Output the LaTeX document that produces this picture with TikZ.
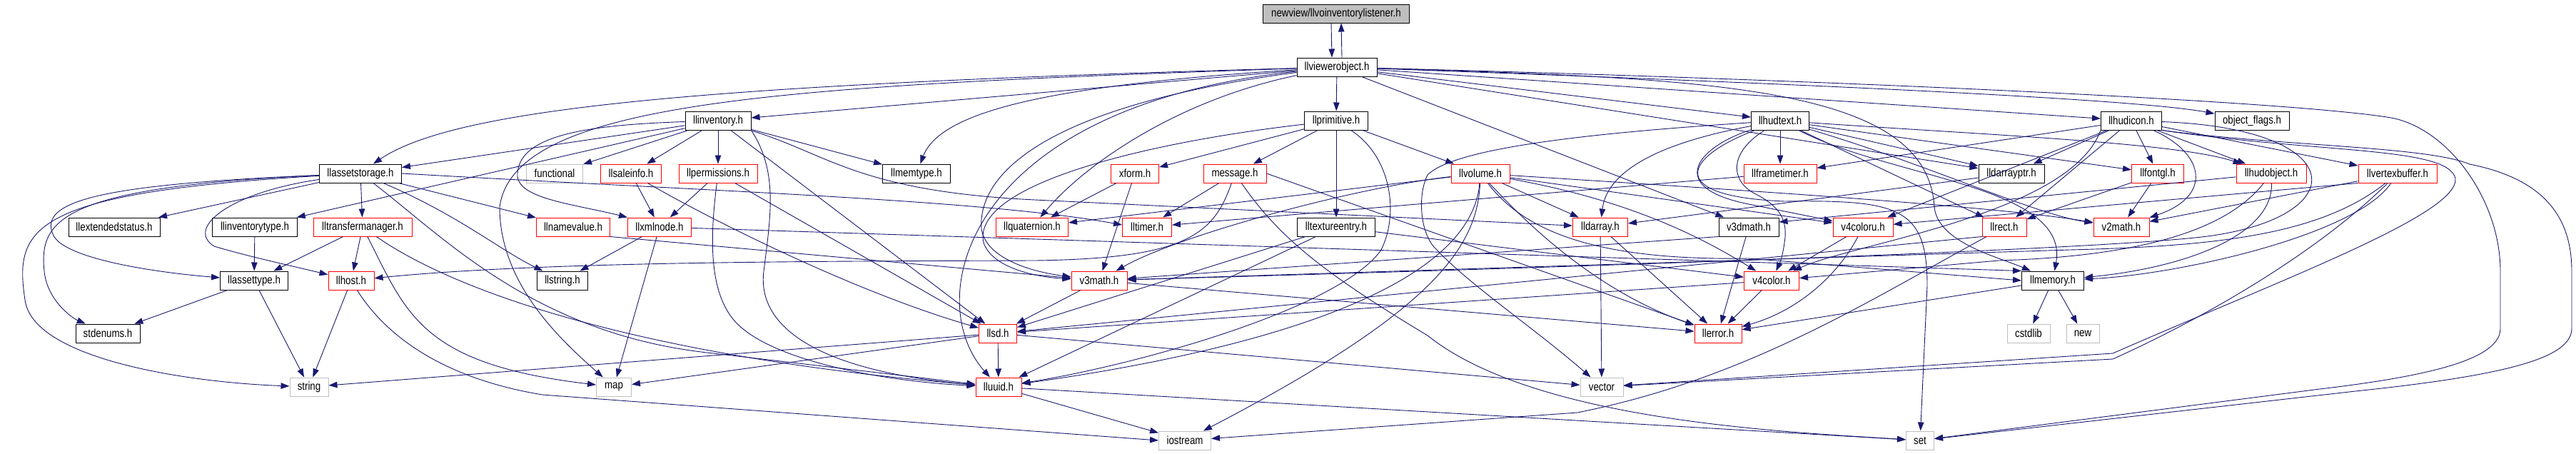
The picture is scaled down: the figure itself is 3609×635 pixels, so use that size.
\documentclass[tikz,border=0pt]{standalone}
\usepackage{fontspec}
\setmainfont{Liberation Sans}[FakeStretch=0.83]
\usetikzlibrary{arrows.meta}
\definecolor{edgeblue}{HTML}{191970}
\definecolor{boxgray}{HTML}{BFBFBF}
\tikzset{
  nd/.style={draw, rectangle, inner sep=0pt, minimum height=26pt, line width=1pt,
    font=\fontsize{16pt}{18pt}\selectfont, text=black},
  blk/.style={nd, draw=black},
  rd/.style={nd, draw=red},
  gr/.style={nd, draw=boxgray},
  topnode/.style={nd, draw=black, fill=boxgray},
  e/.style={draw=edgeblue, line width=0.9pt, -{Triangle[length=12pt,width=8.5pt]}},
}
\begin{document}
\begin{tikzpicture}[x=1pt,y=-1pt]
\useasboundingbox (0,0) rectangle (3609,635);
\fill[white] (0,0) rectangle (3609,635);

% ---------- nodes ----------
\node[topnode, minimum width=205pt] (VOI) at (1872,19) {newview/llvoinventorylistener.h};
\node[blk, minimum width=112pt] (VO) at (1873,94) {llviewerobject.h};

\node[blk, minimum width=92pt]  (INV) at (1006,169) {llinventory.h};
\node[blk, minimum width=89pt]  (PR)  at (1872,169) {llprimitive.h};
\node[blk, minimum width=81pt]  (HT)  at (2494,169) {llhudtext.h};
\node[blk, minimum width=85pt]  (HI)  at (2986,169) {llhudicon.h};
\node[blk, minimum width=104pt] (OF)  at (3155,169) {object\_flags.h};

\node[blk, minimum width=115pt] (AS)   at (505,243)  {llassetstorage.h};
\node[gr,  minimum width=79pt]  (FUN)  at (777,243)  {functional};
\node[rd,  minimum width=85pt]  (SI)   at (884,243)  {llsaleinfo.h};
\node[rd,  minimum width=110pt] (PERM) at (1006,243) {llpermissions.h};
\node[blk, minimum width=95pt]  (MT)   at (1284,243) {llmemtype.h};
\node[rd,  minimum width=67pt]  (XF)   at (1590,243) {xform.h};
\node[rd,  minimum width=88pt]  (MSG)  at (1730,243) {message.h};
\node[rd,  minimum width=82pt]  (VOL)  at (2074,243) {llvolume.h};
\node[rd,  minimum width=102pt] (FT)   at (2494,243) {llframetimer.h};
\node[blk, minimum width=92pt]  (DAP)  at (2818,243) {lldarrayptr.h};
\node[rd,  minimum width=73pt]  (FGL)  at (3023,243) {llfontgl.h};
\node[rd,  minimum width=98pt]  (HO)   at (3182,243) {llhudobject.h};
\node[rd,  minimum width=110pt] (VB)   at (3359,243) {llvertexbuffer.h};

\node[blk, minimum width=128pt] (ES)   at (160,318)  {llextendedstatus.h};
\node[blk, minimum width=119pt] (IT)   at (357,318)  {llinventorytype.h};
\node[rd,  minimum width=138pt] (TM)   at (508,318)  {lltransfermanager.h};
\node[rd,  minimum width=103pt] (NV)   at (803,318)  {llnamevalue.h};
\node[rd,  minimum width=89pt]  (XML)  at (924,318)  {llxmlnode.h};
\node[rd,  minimum width=101pt] (QUAT) at (1446,318) {llquaternion.h};
\node[rd,  minimum width=69pt]  (TIM)  at (1607,318) {lltimer.h};
\node[blk, minimum width=109pt] (TE)   at (1872,318) {lltextureentry.h};
\node[rd,  minimum width=77pt]  (DA)   at (2242,318) {lldarray.h};
\node[blk, minimum width=84pt]  (V3D)  at (2450,318) {v3dmath.h};
\node[rd,  minimum width=84pt]  (V4U)  at (2610,318) {v4coloru.h};
\node[rd,  minimum width=62pt]  (RECT) at (2808,318) {llrect.h};
\node[rd,  minimum width=78pt]  (V2)   at (2972,318) {v2math.h};

\node[blk, minimum width=95pt]  (AT)   at (356,393)  {llassettype.h};
\node[rd,  minimum width=64pt]  (HOST) at (492,393)  {llhost.h};
\node[blk, minimum width=71pt]  (LSTR) at (788,393)  {llstring.h};
\node[rd,  minimum width=78pt]  (V3)   at (1540,393) {v3math.h};
\node[rd,  minimum width=77pt]  (V4)   at (2482,393) {v4color.h};
\node[blk, minimum width=87pt]  (MEM)  at (2876,393) {llmemory.h};

\node[blk, minimum width=90pt]  (SE)   at (151,467)  {stdenums.h};
\node[rd,  minimum width=53pt]  (SD)   at (1398,467) {llsd.h};
\node[rd,  minimum width=66pt]  (ERR)  at (2407,467) {llerror.h};
\node[gr,  minimum width=60pt]  (CSTD) at (2842,467) {cstdlib};
\node[gr,  minimum width=46pt]  (NEW)  at (2918,467) {new};

\node[gr,  minimum width=54pt]  (STR)  at (433,542)  {string};
\node[gr,  minimum width=49pt]  (MAP)  at (860,542)  {map};
\node[rd,  minimum width=64pt]  (UUID) at (1399,542) {lluuid.h};
\node[gr,  minimum width=60pt]  (VEC)  at (2244,542) {vector};

\node[gr,  minimum width=73pt]  (IOS)  at (1660,617) {iostream};
\node[gr,  minimum width=39pt]  (SET)  at (2690,617) {set};

% ---------- edges ----------
% top pair
\draw[e] ([xshift=-7pt]VOI.south) -- ([xshift=-7pt]VO.north);
\draw[e] ([xshift=7pt]VO.north) -- ([xshift=7pt]VOI.south);

% llviewerobject.h
\draw[e] (VO) .. controls (1000,118) and (640,150) .. ([xshift=18pt]AS.north);
\draw[e] (VO) -- (INV);
\draw[e] (VO) .. controls (1500,118) and (1320,150) .. (MT);
\draw[e] (VO) -- (PR);
\draw[e] (VO) .. controls (1650,140) and (1520,230) .. (QUAT);
\draw[e] (VO) .. controls (1450,150) and (1370,250) .. (1375,320) .. controls (1380,360) and (1440,380) .. (V3);
\draw[e] (VO) .. controls (1350,150) and (1290,420) .. (UUID);
\draw[e] (VO) .. controls (1100,120) and (720,140) .. (700,290) .. controls (700,400) and (790,480) .. (MAP);
\draw[e] (VO) -- (HT);
\draw[e] (VO) -- (HI);
\draw[e] (VO) .. controls (2600,120) and (3000,140) .. (OF);
\draw[e] (VO) -- (DAP);
\draw[e] (VO) -- (V3D);
\draw[e] (VO) .. controls (2400,110) and (2700,120) .. (2710,290) .. controls (2715,340) and (2800,360) .. (MEM);
\draw[e] (VO) .. controls (2500,110) and (3200,140) .. (3350,165) .. controls (3430,180) and (3503,280) .. (3503,380) -- (3503,460) .. controls (3503,500) and (3420,525) .. (3250,545) -- (SET);

% llinventory.h
\draw[e] (INV) -- (AS);
\draw[e] (INV) -- (FUN);
\draw[e] (INV) -- (SI);
\draw[e] (INV) -- (PERM);
\draw[e] (INV) -- (MT);
\draw[e] (INV) -- (IT);
\draw[e] (INV) .. controls (820,175) and (728,190) .. (725,243) .. controls (722,278) and (800,285) .. (XML.north west);
\draw[e] (INV) -- (SD);
\draw[e] (INV.south east) .. controls (1090,240) and (1080,300) .. (1070,380) .. controls (1060,460) and (1150,520) .. (UUID);
\draw[e] (INV) .. controls (1160,215) and (1200,268) .. (1450,280) -- (DA);

% llassetstorage.h
\draw[e] (AS) -- (ES);
\draw[e] (AS) -- (TM);
\draw[e] (AS) -- (NV);
\draw[e] (AS) .. controls (640,300) and (700,350) .. (LSTR);
\draw[e] (AS.east) .. controls (1000,268) and (1380,280) .. ([yshift=3pt]TIM.west);
\draw[e] (AS) .. controls (620,330) and (750,470) .. (1000,495) -- (UUID);
\draw[e] (AS) .. controls (150,258) and (50,280) .. (75,330) .. controls (90,360) and (200,380) .. (AT);
\draw[e] (AS) .. controls (80,262) and (55,310) .. (62,380) .. controls (66,420) and (100,445) .. (SE);
\draw[e] (AS) .. controls (40,270) and (20,320) .. (35,420) .. controls (45,500) and (250,535) .. (STR);
\draw[e] (AS) .. controls (320,270) and (260,320) .. (300,345) .. controls (350,360) and (420,375) .. (HOST);

% lltransfermanager.h and below
\draw[e] (TM) -- (AT);
\draw[e] (TM) -- (HOST);
\draw[e] (TM) .. controls (570,440) and (590,510) .. (MAP);
\draw[e] (TM) .. controls (640,410) and (900,500) .. (UUID);
\draw[e] (IT) -- (AT);
\draw[e] (AT) -- (SE);
\draw[e] (AT) -- (STR);
\draw[e] (HOST) -- (STR);
\draw[e] (HOST) .. controls (540,470) and (620,530) .. (760,553) -- (IOS.west);

% llsaleinfo.h, llpermissions.h, llxmlnode.h, llnamevalue.h
\draw[e] (SI) -- (XML);
\draw[e] (SI) .. controls (1000,310) and (1200,410) .. (SD);
\draw[e] (PERM) -- (XML);
\draw[e] (PERM) -- (SD);
\draw[e] (PERM) .. controls (995,330) and (990,420) .. (1040,460) .. controls (1100,510) and (1250,535) .. (UUID);
\draw[e] (XML) -- (LSTR);
\draw[e] (XML) -- (MAP);
\draw[e] (XML) -- (MEM.north west);
\draw[e] (NV.south east) -- (V3);

% llprimitive.h
\draw[e] (PR) -- (XF);
\draw[e] (PR) -- (MSG);
\draw[e] (PR) -- (TE);
\draw[e] (PR) -- (VOL);
\draw[e] (PR) .. controls (1600,200) and (1360,260) .. (1378,340) .. controls (1390,375) and (1450,388) .. (V3);
\draw[e] (PR) .. controls (1950,220) and (1960,300) .. (1935,350) .. controls (1880,430) and (1600,510) .. (UUID);

% xform.h, message.h, lltextureentry.h
\draw[e] (XF) -- (QUAT);
\draw[e] (XF) -- (V3);
\draw[e] (MSG) -- (TIM);
\draw[e] (MSG) .. controls (1700,330) and (1660,362) .. (1450,365) .. controls (1150,366) and (760,366) .. (HOST);
\draw[e] (MSG) .. controls (1790,330) and (1850,380) .. (2000,470) .. controls (2150,590) and (2500,605) .. (SET);
\draw[e] (MSG.east) -- (ERR);
\draw[e] (TE) -- (SD);
\draw[e] (TE) -- (UUID);
\draw[e] (TE) -- (V4);

% v3math.h, llsd.h, lluuid.h
\draw[e] (V3) -- (SD);
\draw[e] (V3) -- (ERR);
\draw[e] (SD) -- (UUID);
\draw[e] (SD) -- (STR);
\draw[e] (SD) -- (MAP);
\draw[e] (SD) -- (VEC);
\draw[e] (UUID) -- (IOS);
\draw[e] (UUID) -- (SET);

% llvolume.h
\draw[e] (VOL) -- (DA);
\draw[e] (VOL) -- (QUAT);
\draw[e] (VOL) .. controls (1900,262) and (1650,330) .. (V3);
\draw[e] (VOL) .. controls (2280,280) and (2380,330) .. (V4);
\draw[e] (VOL) -- (V4U);
\draw[e] (VOL) .. controls (2140,330) and (2250,365) .. (2450,362) -- (MEM.west);
\draw[e] (VOL) .. controls (2500,270) and (2800,290) .. (V2);
\draw[e] (VOL) .. controls (2200,380) and (2300,430) .. (ERR);
\draw[e] (VOL) .. controls (2060,420) and (1700,500) .. (UUID);
\draw[e] (VOL) .. controls (2070,350) and (2000,440) .. (IOS);

% llhudtext.h
\draw[e] (HT) -- (FT);
\draw[e] (HT) -- (DAP);
\draw[e] (HT) -- (FGL);
\draw[e] (HT) .. controls (2800,190) and (3050,200) .. (HO);
\draw[e] (HT) .. controls (2380,205) and (2330,262) .. (2450,286) -- (V4U);
\draw[e] (HT) .. controls (2420,215) and (2425,255) .. (2460,272) .. controls (2495,290) and (2505,310) .. (2500,340) .. controls (2498,355) and (2495,365) .. (V4);
\draw[e] (HT) .. controls (2300,205) and (2250,250) .. (DA);
\draw[e] (HT) -- (RECT);
\draw[e] (HT) .. controls (2700,230) and (2850,300) .. (V2);
\draw[e] (HT) .. controls (2650,250) and (2900,260) .. (MEM);
\draw[e] (HT) .. controls (2360,220) and (2330,275) .. (2500,282) .. controls (2660,280) and (2700,290) .. (2700,400) -- (SET);
\draw[e] (HT) .. controls (2250,185) and (2040,205) .. (2000,245) .. controls (1985,275) and (1990,330) .. (2013,350) .. controls (2060,400) and (2150,460) .. (VEC);

% llhudicon.h
\draw[e] (HI) -- (FT);
\draw[e] (HI) -- (DAP);
\draw[e] (HI) -- (FGL);
\draw[e] (HI) -- (HO);
\draw[e] (HI) -- (VB);
\draw[e] (HI) .. controls (3090,215) and (3100,275) .. (V2);
\draw[e] (HI) -- (RECT);
\draw[e] (HI) -- (V4U);
\draw[e] (HI.south west) .. controls (2900,300) and (2600,340) .. (V4);
\draw[e] (HI) .. controls (3290,180) and (3300,300) .. (3100,330) .. controls (2950,352) and (2000,380) .. (V3);
\draw[e] (HI.south east) .. controls (3200,205) and (3400,205) .. (3460,230) .. controls (3560,250) and (3603,300) .. (3603,380) -- (3603,460) .. controls (3603,500) and (3520,525) .. (3300,548) -- (SET);
\draw[e] (HI.south east) .. controls (3250,215) and (3430,205) .. (3440,250) .. controls (3445,300) and (3200,390) .. (2960,495) -- (VEC);

% llfontgl.h, llhudobject.h, llvertexbuffer.h
\draw[e] (FGL) -- (RECT);
\draw[e] (FGL) -- (V2);
\draw[e] (HO) .. controls (3185,330) and (3060,375) .. (MEM);
\draw[e] (HO) .. controls (3110,335) and (2960,360) .. (2800,365) -- (V4);
\draw[e] (HO) -- ([yshift=7pt]V3D.east);
\draw[e] (VB) -- (V2);
\draw[e] (VB.south west) -- (V4U);
\draw[e] (VB) .. controls (3250,330) and (3100,345) .. (2900,350) -- (V3);
\draw[e] (VB) .. controls (3300,330) and (3050,385) .. (MEM);
\draw[e] (VB) .. controls (3250,350) and (3100,440) .. (2960,503) -- (VEC);

% remaining
\draw[e] (V3D) -- (ERR);
\draw[e] (V3D.south west) -- (V3);
\draw[e] (V4U) -- (V4);
\draw[e] (V4U) .. controls (2575,385) and (2520,435) .. (ERR);
\draw[e] (V4) -- (ERR);
\draw[e] (V4) -- (SD);
\draw[e] (RECT) .. controls (2620,420) and (2450,530) .. (2210,578) -- (IOS);
\draw[e] (RECT.south west) -- (SD);
\draw[e] (MEM) -- (ERR);
\draw[e] (MEM) -- (CSTD);
\draw[e] (MEM) -- (NEW);
\draw[e] (DA) -- (VEC);
\draw[e] (DA) -- (ERR);
\draw[e] (DAP) -- (DA);
\draw[e] (FT) -- (TIM);
\end{tikzpicture}
\end{document}
